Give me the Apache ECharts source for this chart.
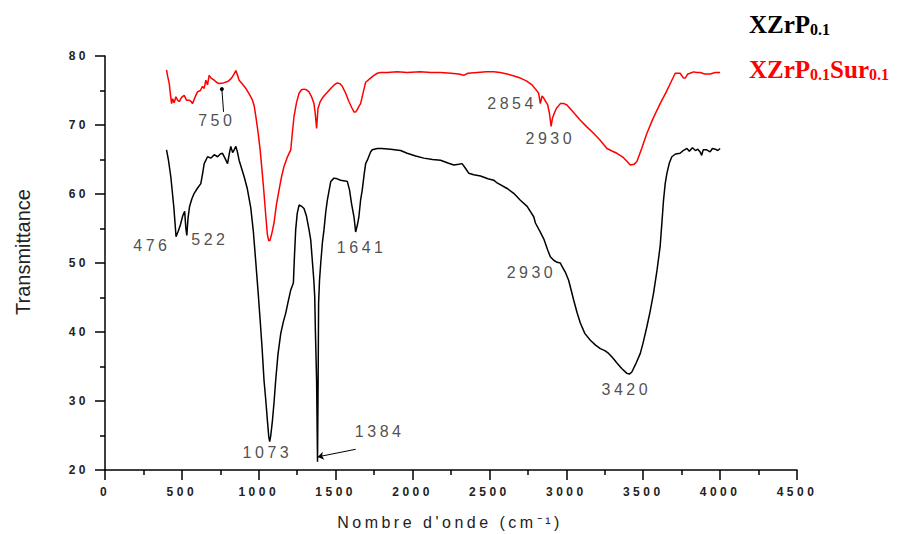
<!DOCTYPE html>
<html>
<head>
<meta charset="utf-8">
<script src="https://cdn.jsdelivr.net/npm/echarts@6/dist/echarts.min.js"></script>
<style>
  html, body { margin: 0; padding: 0; background: #fff; }
  #chart { width: 901px; height: 534px; }
  /* the source plot uses spaced-out lettering for its sans labels */
  #chart text { letter-spacing: 3.5px; }
  #chart text[style*="Arial"], #chart text[style*="Times"] { letter-spacing: 0; }
</style>
</head>
<body>
<div id="chart"></div>
<script>
// wavenumber (cm-1) / transmittance
const xzrpX = [400, 412, 428, 448, 462, 476, 490, 505, 518, 526, 532, 540, 550, 565, 580, 600, 623, 635, 645, 667, 690, 710, 732, 750, 764, 780, 797, 808, 818, 830, 840, 851, 862, 872, 890, 905, 925, 948, 965, 981, 995, 1009, 1022, 1034, 1046, 1056, 1065, 1071, 1078, 1089, 1100, 1110, 1125, 1143, 1160, 1175, 1190, 1208, 1225, 1232, 1240, 1250, 1262, 1280, 1294, 1310, 1327, 1338, 1348, 1358, 1364, 1368, 1376, 1382, 1386, 1389, 1395, 1403, 1414, 1424, 1436, 1446, 1458, 1468, 1489, 1510, 1532, 1560, 1576, 1590, 1604, 1619, 1630, 1641, 1651, 1662, 1673, 1685, 1695, 1706, 1727, 1738, 1771, 1800, 1857, 1922, 1965, 2020, 2073, 2130, 2182, 2230, 2268, 2300, 2322, 2345, 2366, 2398, 2442, 2490, 2528, 2550, 2615, 2658, 2701, 2745, 2788, 2799, 2830, 2853, 2880, 2896, 2918, 2940, 2961, 2972, 2995, 3015, 3030, 3048, 3070, 3091, 3120, 3156, 3190, 3221, 3250, 3275, 3300, 3329, 3360, 3394, 3410, 3426, 3450, 3481, 3500, 3524, 3545, 3567, 3590, 3610, 3622, 3632, 3643, 3654, 3670, 3686, 3710, 3740, 3760, 3784, 3800, 3820, 3840, 3855, 3870, 3880, 3890, 3913, 3935, 3950, 3968, 3985, 4000];
const xzrpY = [66.4, 65, 62.5, 58, 53.8, 54.6, 55.5, 56.8, 57.5, 55, 54, 56.5, 58.2, 59.3, 60.1, 60.8, 61.5, 63, 64.4, 65.4, 65.2, 65.7, 65.4, 65.8, 65.9, 65.2, 64.4, 65.8, 66.9, 66, 66.4, 66.9, 66, 64.9, 63.6, 62.5, 60.8, 58, 54.5, 50, 46, 41.7, 37.5, 33, 30, 27.2, 24.8, 24.1, 25, 27.2, 30, 33, 36.8, 39.8, 41.5, 42.7, 44.3, 46.1, 47.1, 51, 54.8, 57.2, 58.4, 58.2, 57.9, 56.8, 54.8, 53.3, 50.4, 47.5, 45, 40.3, 33, 21.2, 33, 44.2, 47.5, 50, 53, 54.8, 57.5, 59.1, 60.6, 61.8, 62.3, 62.2, 62, 61.9, 61.8, 60.6, 58.5, 56.7, 54.5, 55.5, 56.7, 59.1, 60.6, 62.8, 64.4, 64.9, 66.1, 66.4, 66.6, 66.6, 66.5, 66.3, 65.9, 65.5, 65.2, 65, 64.9, 64.5, 64.2, 64.3, 64.4, 63.7, 63, 62.8, 62.6, 62.2, 62, 61.6, 60.8, 60.1, 59.1, 58.2, 56.7, 55.8, 54.5, 53.5, 51.8, 50.9, 50.4, 50.1, 50, 49.5, 48.6, 47.5, 46.2, 44.6, 42.8, 41.3, 39.8, 38.8, 38.1, 37.6, 37.3, 36.9, 36.3, 35.5, 34.7, 34, 33.9, 34.2, 35.3, 36.9, 38.5, 40.8, 43, 45.6, 49, 52.4, 56, 59.1, 61.5, 63, 64.5, 65.4, 65.8, 65.9, 66.3, 66.6, 66.2, 66.7, 66.3, 66.5, 66.1, 65.6, 66.4, 66.4, 66.1, 66.6, 66.5, 66.3, 66.6];

const surX = [400, 408, 418, 425, 433, 440, 450, 461, 472, 483, 498, 515, 530, 548, 560, 569, 585, 601, 620, 634, 645, 656, 667, 677, 690, 710, 725, 742, 770, 797, 815, 829, 840, 851, 862, 872, 895, 916, 940, 959, 970, 981, 995, 1009, 1022, 1034, 1045, 1056, 1065, 1073, 1085, 1099, 1115, 1132, 1148, 1164, 1185, 1208, 1218, 1229, 1245, 1262, 1278, 1294, 1310, 1327, 1345, 1359, 1368, 1376, 1385, 1398, 1413, 1440, 1468, 1490, 1511, 1527, 1543, 1565, 1586, 1605, 1619, 1630, 1640, 1651, 1662, 1680, 1695, 1727, 1749, 1771, 1792, 1836, 1900, 1965, 2050, 2120, 2182, 2250, 2300, 2333, 2360, 2420, 2480, 2528, 2570, 2615, 2660, 2701, 2740, 2777, 2800, 2820, 2831, 2842, 2853, 2866, 2879, 2890, 2901, 2910, 2918, 2935, 2961, 2985, 3004, 3040, 3091, 3130, 3177, 3220, 3264, 3300, 3329, 3370, 3400, 3416, 3440, 3459, 3490, 3524, 3565, 3610, 3650, 3680, 3708, 3740, 3762, 3773, 3790, 3805, 3827, 3850, 3870, 3900, 3935, 3968, 4000];
const surY = [78, 77, 76, 74.5, 73.1, 73.8, 73.2, 74.1, 73.6, 73.4, 74, 74.3, 73.6, 73.6, 73.4, 73.1, 74, 74.8, 75, 75.6, 75.3, 76.5, 75.8, 77.2, 76.8, 76.5, 76.2, 76, 76.1, 76.3, 76.6, 77, 77.4, 77.9, 77.2, 76.5, 75.9, 75.3, 74.4, 73.6, 72.8, 71.2, 69, 66.4, 63.2, 60.1, 57, 54.1, 53.2, 53.3, 54.3, 55.8, 58.5, 60.6, 62.5, 64, 65.3, 66.4, 68.8, 71.2, 73.2, 74.6, 75.1, 75.2, 75.1, 74.8, 74, 73.1, 71.5, 69.5, 72.4, 73.3, 73.9, 74.6, 75.3, 75.8, 76.1, 76, 75.6, 74.6, 73.4, 72.5, 71.9, 71.9, 72.2, 72.7, 73.1, 74.8, 76.2, 76.8, 77.2, 77.5, 77.6, 77.6, 77.7, 77.6, 77.7, 77.6, 77.6, 77.5, 77.4, 77.2, 77.5, 77.6, 77.7, 77.7, 77.6, 77.4, 77.1, 76.8, 76.4, 75.8, 75.2, 74.6, 73.1, 74.2, 73.9, 73.4, 72.9, 71.7, 69.8, 71, 71.5, 72.4, 73.1, 73.1, 72.9, 72, 70.7, 69.8, 68.8, 67.8, 66.6, 66.2, 65.9, 65.3, 64.6, 64.2, 64.3, 64.7, 66.6, 68.8, 71, 73.1, 74.8, 76.2, 77.5, 77.5, 76.8, 76.8, 77.4, 77.5, 77.7, 77.6, 77.6, 77.4, 77.4, 77.6, 77.6];

// peak labels, placed in data coordinates
const peakText = ['750', '476', '522', '1641', '1073', '1384', '2854', '2930', '2930', '3420'];
const peakX = [727, 305, 682, 1669, 1056, 1786, 2647, 2896, 2773, 3390];
const peakY = [70.7, 52.6, 53.4, 52.2, 22.5, 25.6, 73.1, 68.1, 48.6, 31.6];

const xTicks = { min: 0, max: 4500, interval: 500 };
const yTicks = { min: 20, max: 80, interval: 10 };

const zip = (xs, ys) => xs.map((x, i) => [x, ys[i]]);

const chart = echarts.init(document.getElementById('chart'), null, { renderer: 'svg' });

const tickFont = {
  color: '#222',
  fontFamily: 'Liberation Sans',
  fontSize: 12,
  fontWeight: 'bold',
  formatter: v => String(v)
};

const axisCommon = {
  type: 'value',
  axisLine: { show: true, onZero: false, lineStyle: { color: '#000', width: 1.5 } },
  axisTick: { show: true, inside: false, length: 10, lineStyle: { color: '#000', width: 1.5 } },
  minorTick: { show: true, splitNumber: 2, length: 5, lineStyle: { color: '#000', width: 1.5 } },
  splitLine: { show: false }
};

const legendRich = color => ({
  a: { font: 'bold 25px "Times New Roman"', fill: color, lineHeight: 28 },
  s: { font: 'bold 16px "Times New Roman"', fill: color, lineHeight: 28, padding: [10, 0, 0, 0] }
});

const option = {
  animation: false,
  backgroundColor: '#fff',
  grid: { left: 105, right: 104, top: 56, bottom: 64 },
  xAxis: {
    ...axisCommon,
    ...xTicks,
    axisLabel: { ...tickFont, margin: 16 }
  },
  yAxis: {
    ...axisCommon,
    ...yTicks,
    axisLabel: { ...tickFont, margin: 16 }
  },
  graphic: [
    {
      type: 'text',
      x: 23,
      y: 252,
      rotation: Math.PI / 2,
      style: {
        text: 'Transmittance',
        fill: '#222',
        font: '20px Arial',
        align: 'center',
        verticalAlign: 'middle',
        textAlign: 'center',
        textVerticalAlign: 'middle'
      }
    },
    {
      type: 'text',
      x: 450,
      y: 522,
      style: {
        text: 'Nombre d\'onde (cm⁻¹)',
        fill: '#222',
        font: '16px "Liberation Sans"',
        align: 'center',
        verticalAlign: 'middle',
        textAlign: 'center',
        textVerticalAlign: 'middle'
      }
    },
    {
      type: 'text',
      x: 749,
      y: 24,
      style: {
        text: '{a|XZrP}{s|0.1}',
        fill: '#000',
        verticalAlign: 'middle',
        textVerticalAlign: 'middle',
        rich: legendRich('#000')
      }
    },
    {
      type: 'text',
      x: 749,
      y: 69,
      style: {
        text: '{a|XZrP}{s|0.1}{a|Sur}{s|0.1}',
        fill: '#ff0000',
        verticalAlign: 'middle',
        textVerticalAlign: 'middle',
        rich: legendRich('#ff0000')
      }
    }
  ],
  series: [
    {
      name: 'XZrP0.1',
      type: 'line',
      data: zip(xzrpX, xzrpY),
      showSymbol: false,
      lineStyle: { color: '#000', width: 1.5 },
      itemStyle: { color: '#000' },
      silent: true
    },
    {
      name: 'XZrP0.1Sur0.1',
      type: 'line',
      data: zip(surX, surY),
      showSymbol: false,
      lineStyle: { color: '#ff0000', width: 1.5 },
      itemStyle: { color: '#ff0000' },
      silent: true
    },
    {
      name: 'peaks',
      type: 'scatter',
      symbolSize: 0,
      silent: true,
      data: peakText.map((t, i) => ({ name: t, value: [peakX[i], peakY[i]] })),
      label: {
        show: true,
        position: 'inside',
        formatter: '{b}',
        color: '#222',
        fontFamily: 'Liberation Sans',
        fontSize: 16
      },
      markLine: {
        silent: true,
        animation: false,
        label: { show: false },
        lineStyle: { color: '#000', width: 1, type: 'solid' },
        data: [
          [
            { coord: [760, 75.2], symbol: 'circle', symbolSize: 4 },
            { coord: [771, 71.9], symbol: 'none' }
          ],
          [
            { coord: [1630, 23.0], symbol: 'none' },
            { coord: [1383, 21.9], symbol: 'arrow', symbolSize: 6 }
          ]
        ]
      }
    }
  ]
};

chart.setOption(option);
</script>
</body>
</html>
